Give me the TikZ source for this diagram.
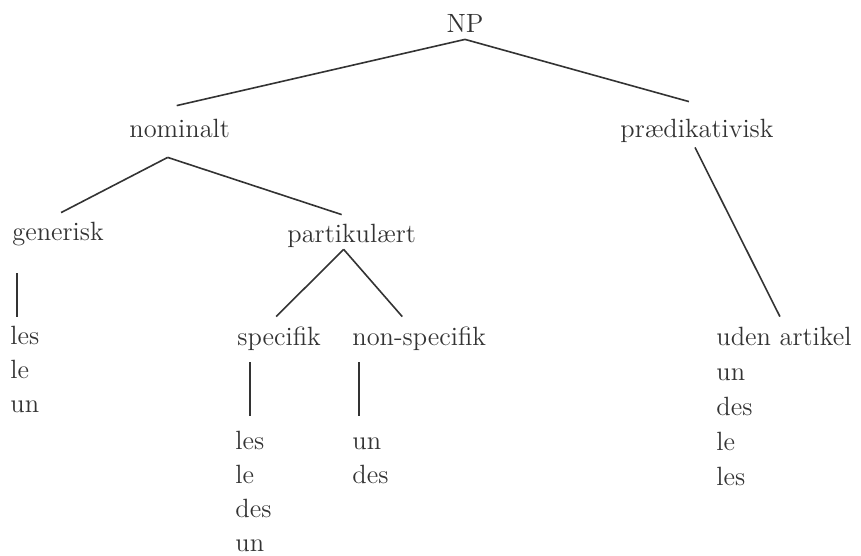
\documentclass[tikz,border=0pt]{standalone}
\usepackage{tikz}
\definecolor{ink}{HTML}{333333}
\tikzset{
    lbl/.style={inner sep=0pt, anchor=base west, text height=9pt, text depth=3pt,
        font=\fontsize{13.2}{16}\selectfont, text=ink},
    branch/.style={draw=ink, line width=0.8pt}
}
\begin{document}
\begin{tikzpicture}[x=0.5pt,y=-0.5pt]
\useasboundingbox (0,0) rectangle (861,556);

% Categories
\node[lbl,anchor=base] (np) at (465,33){NP};
\node[lbl] (nom) at (129,137){nominalt};
\node[lbl] (praed) at (620,137){pr\ae dikativisk};
\node[lbl] (gen) at (12,240){generisk};
\node[lbl] (part) at (287,242){partikul\ae rt};
\node[lbl] (spec) at (237,345){specifik};
\node[lbl] (nspec) at (352,345){non-specifik};
\node[lbl] (uden) at (716,345){uden artikel};

% Articles
\foreach \w [count=\i] in {les,le,un}
    \node[lbl] (gen\i) at (10,{310+34*\i}){\w};
\foreach \w [count=\i] in {les,le,des,un}
    \node[lbl] (spec\i) at (235,{415+34*\i}){\w};
\foreach \w [count=\i] in {un,des}
    \node[lbl] (nspec\i) at (352,{415+34*\i}){\w};
\foreach \w [count=\i] in {un,des,le,les}
    \node[lbl] (uden\i) at (716,{345+35*\i}){\w};

% Branches
 \draw[branch] (np.south) -- ([shift={(-3,-13)}]nom.north);
 \draw[branch] (np.south) -- ([shift={(-8,-17)}]praed.north);
 \draw[branch] ([shift={(-12,14)}]nom.south) -- ([shift={(3,-9)}]gen.north);
 \draw[branch] ([shift={(-12,14)}]nom.south) -- ([shift={(-10,-9)}]part.north);
 \draw[branch] ([shift={(-2,4)}]praed.south) -- ([shift={(-4,-10)}]uden.north);
 \draw[branch] ([shift={(5,27)}]gen.south west) -- ([shift={(7,-9)}]gen1.north west);
 \draw[branch] ([shift={(-8,1)}]part.south) -- ([shift={(-3,-10)}]spec.north);
 \draw[branch] ([shift={(-8,1)}]part.south) -- ([shift={(-17,-10)}]nspec.north);
 \draw[branch] ([shift={(13,11)}]spec.south west) -- ([shift={(15,-15)}]spec1.north west);
 \draw[branch] ([shift={(7,11)}]nspec.south west) -- ([shift={(7,-15)}]nspec1.north west);

\end{tikzpicture}
\end{document}
